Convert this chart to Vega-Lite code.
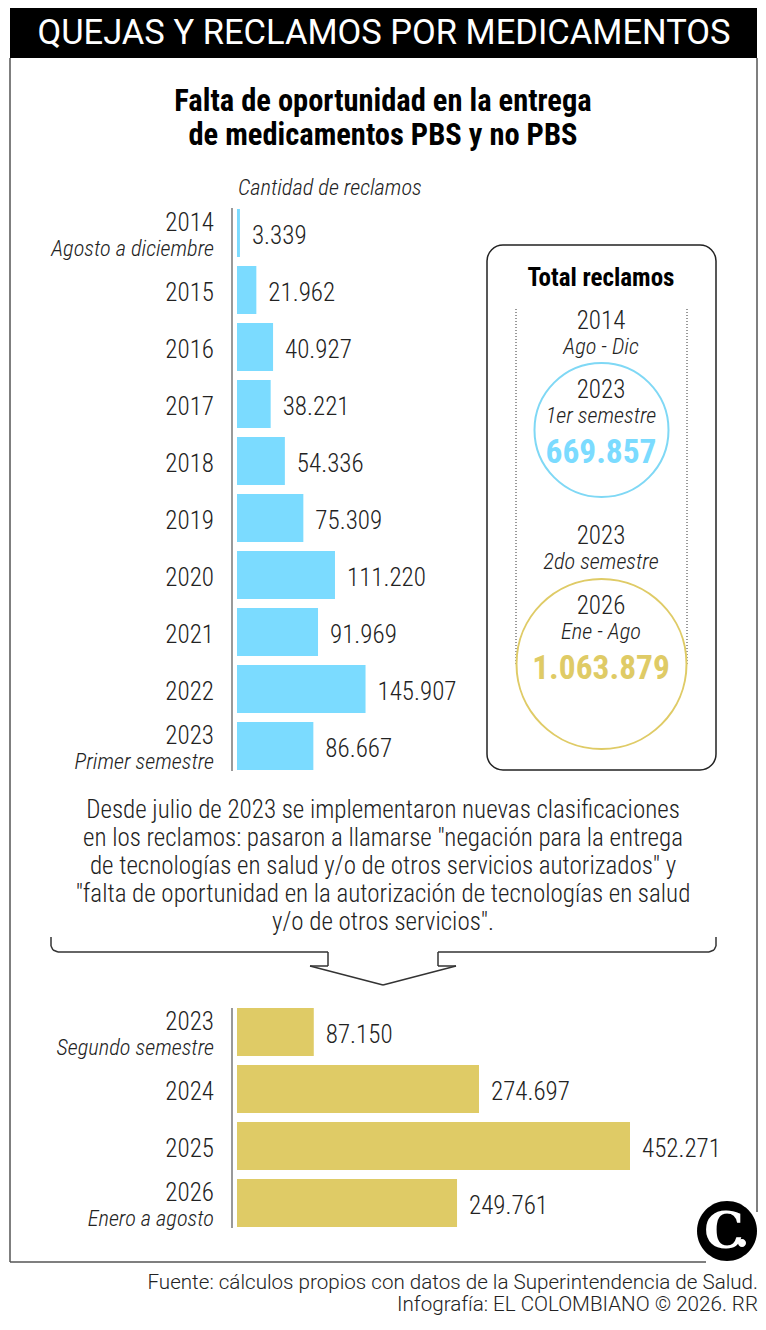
{
  "$schema": "https://vega.github.io/schema/vega-lite/v6.json",
  "width": 766,
  "height": 1330,
  "padding": 0,
  "autosize": {"type": "fit", "contains": "padding"},
  "background": "white",
  "view": {"stroke": null},
  "data": {"values": [{"d": 1}]},
  "resolve": {"scale": {"y": "independent"}},
  "layer": [
    {"mark": {"type": "rect", "fill": "#000000"}, "encoding": {"x": {"value": 10}, "x2": {"value": 757}, "y": {"value": 8}, "y2": {"value": 58}}},
    {"mark": {"type": "rule", "stroke": "#555555", "strokeWidth": 1.5}, "encoding": {"x": {"value": 10}, "y": {"value": 58}, "y2": {"value": 1262}}},
    {"mark": {"type": "rule", "stroke": "#555555", "strokeWidth": 1.5}, "encoding": {"x": {"value": 757}, "y": {"value": 58}, "y2": {"value": 1212}}},
    {"mark": {"type": "rule", "stroke": "#555555", "strokeWidth": 1.5}, "encoding": {"y": {"value": 1262}, "x": {"value": 10}, "x2": {"value": 706}}},
    {"mark": {"type": "text", "font": "Roboto", "fontSize": 34.5, "fontWeight": 400, "fill": "white", "align": "center", "baseline": "middle"}, "encoding": {"x": {"value": 384}, "y": {"value": 34}, "text": {"value": "QUEJAS Y RECLAMOS POR MEDICAMENTOS"}}},
    {"mark": {"type": "text", "font": "Roboto Condensed, Liberation Sans Narrow, Roboto", "fontSize": 30.5, "fontWeight": 700, "fill": "#000000", "align": "center", "baseline": "middle"}, "encoding": {"x": {"value": 383}, "y": {"value": 102}, "text": {"value": "Falta de oportunidad en la entrega"}}},
    {"mark": {"type": "text", "font": "Roboto Condensed, Liberation Sans Narrow, Roboto", "fontSize": 30.5, "fontWeight": 700, "fill": "#000000", "align": "center", "baseline": "middle"}, "encoding": {"x": {"value": 383}, "y": {"value": 136}, "text": {"value": "de medicamentos PBS y no PBS"}}},
    {"mark": {"type": "text", "font": "Roboto Condensed, Liberation Sans Narrow, Roboto", "fontSize": 22.4, "fontWeight": 300, "fontStyle": "italic", "fill": "#222222", "align": "left", "baseline": "middle"}, "encoding": {"x": {"value": 238}, "y": {"value": 188}, "text": {"value": "Cantidad de reclamos"}}},
    {"mark": {"type": "rule", "stroke": "#999999", "strokeWidth": 2}, "encoding": {"x": {"value": 232}, "y": {"value": 208}, "y2": {"value": 771}}},
    {"mark": {"type": "rule", "stroke": "#999999", "strokeWidth": 2}, "encoding": {"x": {"value": 232}, "y": {"value": 1008}, "y2": {"value": 1228}}},
    {
      "data": {"values": [
        {"year": "2014", "sub": "Agosto a diciembre", "reclamos": 3339, "label": "3.339"},
        {"year": "2015", "sub": "", "reclamos": 21962, "label": "21.962"},
        {"year": "2016", "sub": "", "reclamos": 40927, "label": "40.927"},
        {"year": "2017", "sub": "", "reclamos": 38221, "label": "38.221"},
        {"year": "2018", "sub": "", "reclamos": 54336, "label": "54.336"},
        {"year": "2019", "sub": "", "reclamos": 75309, "label": "75.309"},
        {"year": "2020", "sub": "", "reclamos": 111220, "label": "111.220"},
        {"year": "2021", "sub": "", "reclamos": 91969, "label": "91.969"},
        {"year": "2022", "sub": "", "reclamos": 145907, "label": "145.907"},
        {"year": "2023", "sub": "Primer semestre", "reclamos": 86667, "label": "86.667"}
      ]},
      "encoding": {
        "y": {"field": "year", "type": "nominal", "sort": null, "axis": null,
          "scale": {"range": [209, 770], "paddingInner": 0.158, "paddingOuter": 0}}
      },
      "layer": [
        {
          "mark": {"type": "bar", "fill": "#7BDBFF"},
          "encoding": {"x": {"field": "reclamos", "type": "quantitative", "axis": null,
            "scale": {"domain": [0, 274697, 452271], "range": [237, 479, 630]}}, "x2": {"value": 237}}
        },
        {
          "mark": {"type": "text", "font": "Roboto Condensed, Liberation Sans Narrow, Roboto", "fontSize": 25, "fontWeight": 300, "fill": "#222222", "align": "left", "baseline": "middle", "dx": 12, "dy": 3},
          "encoding": {
            "x": {"field": "reclamos", "type": "quantitative", "axis": null,
              "scale": {"domain": [0, 274697, 452271], "range": [237, 479, 630]}},
            "text": {"field": "label"}
          }
        },
        {
          "transform": [{"filter": "datum.sub == ''"}],
          "mark": {"type": "text", "font": "Roboto Condensed, Liberation Sans Narrow, Roboto", "fontSize": 25, "fontWeight": 300, "fill": "#222222", "align": "right", "baseline": "middle", "dy": 3},
          "encoding": {"x": {"value": 214}, "text": {"field": "year"}}
        },
        {
          "transform": [{"filter": "datum.sub != ''"}],
          "mark": {"type": "text", "font": "Roboto Condensed, Liberation Sans Narrow, Roboto", "fontSize": 25, "fontWeight": 300, "fill": "#222222", "align": "right", "baseline": "middle", "dy": -10},
          "encoding": {"x": {"value": 214}, "text": {"field": "year"}}
        },
        {
          "transform": [{"filter": "datum.sub != ''"}],
          "mark": {"type": "text", "font": "Roboto Condensed, Liberation Sans Narrow, Roboto", "fontSize": 22.4, "fontWeight": 300, "fontStyle": "italic", "fill": "#222222", "align": "right", "baseline": "middle", "dy": 16},
          "encoding": {"x": {"value": 214}, "text": {"field": "sub"}}
        }
      ]
    },
    {
      "data": {"values": [
        {"year": "2023", "sub": "Segundo semestre", "reclamos": 87150, "label": "87.150"},
        {"year": "2024", "sub": "", "reclamos": 274697, "label": "274.697"},
        {"year": "2025", "sub": "", "reclamos": 452271, "label": "452.271"},
        {"year": "2026", "sub": "Enero a agosto", "reclamos": 249761, "label": "249.761"}
      ]},
      "encoding": {
        "y": {"field": "year", "type": "nominal", "sort": null, "axis": null,
          "scale": {"range": [1008, 1227], "paddingInner": 0.158, "paddingOuter": 0}}
      },
      "layer": [
        {
          "mark": {"type": "bar", "fill": "#DFCB66"},
          "encoding": {"x": {"field": "reclamos", "type": "quantitative", "axis": null,
            "scale": {"domain": [0, 274697, 452271], "range": [237, 479, 630]}}, "x2": {"value": 237}}
        },
        {
          "mark": {"type": "text", "font": "Roboto Condensed, Liberation Sans Narrow, Roboto", "fontSize": 25, "fontWeight": 300, "fill": "#222222", "align": "left", "baseline": "middle", "dx": 12, "dy": 3},
          "encoding": {
            "x": {"field": "reclamos", "type": "quantitative", "axis": null,
              "scale": {"domain": [0, 274697, 452271], "range": [237, 479, 630]}},
            "text": {"field": "label"}
          }
        },
        {
          "transform": [{"filter": "datum.sub == ''"}],
          "mark": {"type": "text", "font": "Roboto Condensed, Liberation Sans Narrow, Roboto", "fontSize": 25, "fontWeight": 300, "fill": "#222222", "align": "right", "baseline": "middle", "dy": 3},
          "encoding": {"x": {"value": 214}, "text": {"field": "year"}}
        },
        {
          "transform": [{"filter": "datum.sub != ''"}],
          "mark": {"type": "text", "font": "Roboto Condensed, Liberation Sans Narrow, Roboto", "fontSize": 25, "fontWeight": 300, "fill": "#222222", "align": "right", "baseline": "middle", "dy": -10},
          "encoding": {"x": {"value": 214}, "text": {"field": "year"}}
        },
        {
          "transform": [{"filter": "datum.sub != ''"}],
          "mark": {"type": "text", "font": "Roboto Condensed, Liberation Sans Narrow, Roboto", "fontSize": 22.4, "fontWeight": 300, "fontStyle": "italic", "fill": "#222222", "align": "right", "baseline": "middle", "dy": 16},
          "encoding": {"x": {"value": 214}, "text": {"field": "sub"}}
        }
      ]
    },
    {"mark": {"type": "rect", "fill": "transparent", "stroke": "#222222", "strokeWidth": 1.5, "cornerRadius": 16}, "encoding": {"x": {"value": 487}, "x2": {"value": 716}, "y": {"value": 245}, "y2": {"value": 770}}},
    {"mark": {"type": "text", "font": "Roboto Condensed, Liberation Sans Narrow, Roboto", "fontSize": 25, "fontWeight": 700, "fill": "#000000", "align": "center", "baseline": "middle"}, "encoding": {"x": {"value": 601}, "y": {"value": 278}, "text": {"value": "Total reclamos"}}},
    {"mark": {"type": "rule", "stroke": "#333333", "strokeWidth": 1, "strokeDash": [1, 2]}, "encoding": {"x": {"value": 516}, "y": {"value": 309}, "y2": {"value": 665}}},
    {"mark": {"type": "rule", "stroke": "#333333", "strokeWidth": 1, "strokeDash": [1, 2]}, "encoding": {"x": {"value": 687}, "y": {"value": 309}, "y2": {"value": 665}}},
    {"mark": {"type": "rect", "fill": "transparent", "stroke": "#7FD8F5", "strokeWidth": 2, "cornerRadius": 67}, "encoding": {"x": {"value": 534.5}, "x2": {"value": 668.5}, "y": {"value": 363}, "y2": {"value": 497}}},
    {"mark": {"type": "rect", "fill": "transparent", "stroke": "#DFCB66", "strokeWidth": 2, "cornerRadius": 85}, "encoding": {"x": {"value": 516.5}, "x2": {"value": 686.5}, "y": {"value": 579}, "y2": {"value": 749}}},
    {"mark": {"type": "text", "font": "Roboto Condensed, Liberation Sans Narrow, Roboto", "fontSize": 25, "fontWeight": 300, "fill": "#222222", "align": "center", "baseline": "middle"}, "encoding": {"x": {"value": 601}, "y": {"value": 321}, "text": {"value": "2014"}}},
    {"mark": {"type": "text", "font": "Roboto Condensed, Liberation Sans Narrow, Roboto", "fontSize": 22.4, "fontWeight": 300, "fontStyle": "italic", "fill": "#222222", "align": "center", "baseline": "middle"}, "encoding": {"x": {"value": 601}, "y": {"value": 347}, "text": {"value": "Ago - Dic"}}},
    {"mark": {"type": "text", "font": "Roboto Condensed, Liberation Sans Narrow, Roboto", "fontSize": 25, "fontWeight": 300, "fill": "#222222", "align": "center", "baseline": "middle"}, "encoding": {"x": {"value": 601}, "y": {"value": 390}, "text": {"value": "2023"}}},
    {"mark": {"type": "text", "font": "Roboto Condensed, Liberation Sans Narrow, Roboto", "fontSize": 22.4, "fontWeight": 300, "fontStyle": "italic", "fill": "#222222", "align": "center", "baseline": "middle"}, "encoding": {"x": {"value": 601}, "y": {"value": 416}, "text": {"value": "1er semestre"}}},
    {"mark": {"type": "text", "font": "Roboto Condensed, Liberation Sans Narrow, Roboto", "fontSize": 33.4, "fontWeight": 700, "fill": "#7BDBFF", "align": "center", "baseline": "middle"}, "encoding": {"x": {"value": 601}, "y": {"value": 453}, "text": {"value": "669.857"}}},
    {"mark": {"type": "text", "font": "Roboto Condensed, Liberation Sans Narrow, Roboto", "fontSize": 25, "fontWeight": 300, "fill": "#222222", "align": "center", "baseline": "middle"}, "encoding": {"x": {"value": 601}, "y": {"value": 536}, "text": {"value": "2023"}}},
    {"mark": {"type": "text", "font": "Roboto Condensed, Liberation Sans Narrow, Roboto", "fontSize": 22.4, "fontWeight": 300, "fontStyle": "italic", "fill": "#222222", "align": "center", "baseline": "middle"}, "encoding": {"x": {"value": 601}, "y": {"value": 562}, "text": {"value": "2do semestre"}}},
    {"mark": {"type": "text", "font": "Roboto Condensed, Liberation Sans Narrow, Roboto", "fontSize": 25, "fontWeight": 300, "fill": "#222222", "align": "center", "baseline": "middle"}, "encoding": {"x": {"value": 601}, "y": {"value": 606}, "text": {"value": "2026"}}},
    {"mark": {"type": "text", "font": "Roboto Condensed, Liberation Sans Narrow, Roboto", "fontSize": 22.4, "fontWeight": 300, "fontStyle": "italic", "fill": "#222222", "align": "center", "baseline": "middle"}, "encoding": {"x": {"value": 601}, "y": {"value": 632}, "text": {"value": "Ene - Ago"}}},
    {"mark": {"type": "text", "font": "Roboto Condensed, Liberation Sans Narrow, Roboto", "fontSize": 33.4, "fontWeight": 700, "fill": "#DFCB66", "align": "center", "baseline": "middle"}, "encoding": {"x": {"value": 601}, "y": {"value": 669}, "text": {"value": "1.063.879"}}},
    {"mark": {"type": "text", "font": "Roboto Condensed, Liberation Sans Narrow, Roboto", "fontSize": 25, "fontWeight": 300, "fill": "#222222", "align": "center", "baseline": "middle"}, "encoding": {"x": {"value": 383}, "y": {"value": 810}, "text": {"value": "Desde julio de 2023 se implementaron nuevas clasificaciones"}}},
    {"mark": {"type": "text", "font": "Roboto Condensed, Liberation Sans Narrow, Roboto", "fontSize": 25, "fontWeight": 300, "fill": "#222222", "align": "center", "baseline": "middle"}, "encoding": {"x": {"value": 383}, "y": {"value": 838}, "text": {"value": "en los reclamos: pasaron a llamarse \"negación para la entrega"}}},
    {"mark": {"type": "text", "font": "Roboto Condensed, Liberation Sans Narrow, Roboto", "fontSize": 25, "fontWeight": 300, "fill": "#222222", "align": "center", "baseline": "middle"}, "encoding": {"x": {"value": 383}, "y": {"value": 866}, "text": {"value": "de tecnologías en salud y/o de otros servicios autorizados\" y"}}},
    {"mark": {"type": "text", "font": "Roboto Condensed, Liberation Sans Narrow, Roboto", "fontSize": 25, "fontWeight": 300, "fill": "#222222", "align": "center", "baseline": "middle"}, "encoding": {"x": {"value": 383}, "y": {"value": 894}, "text": {"value": "\"falta de oportunidad en la autorización de tecnologías en salud"}}},
    {"mark": {"type": "text", "font": "Roboto Condensed, Liberation Sans Narrow, Roboto", "fontSize": 25, "fontWeight": 300, "fill": "#222222", "align": "center", "baseline": "middle"}, "encoding": {"x": {"value": 383}, "y": {"value": 922}, "text": {"value": "y/o de otros servicios\"."}}},
    {"mark": {"type": "rule", "stroke": "#333333", "strokeWidth": 1.5}, "encoding": {"x": {"value": 51}, "y": {"value": 937}, "y2": {"value": 946}}},
    {"mark": {"type": "rule", "stroke": "#333333", "strokeWidth": 1.5}, "encoding": {"x": {"value": 51}, "x2": {"value": 53}, "y": {"value": 946}, "y2": {"value": 950}}},
    {"mark": {"type": "rule", "stroke": "#333333", "strokeWidth": 1.5}, "encoding": {"x": {"value": 53}, "x2": {"value": 58}, "y": {"value": 950}, "y2": {"value": 952}}},
    {"mark": {"type": "rule", "stroke": "#333333", "strokeWidth": 1.5}, "encoding": {"x": {"value": 58}, "x2": {"value": 328}, "y": {"value": 952}}},
    {"mark": {"type": "rule", "stroke": "#333333", "strokeWidth": 1.5}, "encoding": {"x": {"value": 328}, "y": {"value": 952}, "y2": {"value": 966}}},
    {"mark": {"type": "rule", "stroke": "#333333", "strokeWidth": 1.5}, "encoding": {"x": {"value": 310}, "x2": {"value": 328}, "y": {"value": 966}}},
    {"mark": {"type": "rule", "stroke": "#333333", "strokeWidth": 1.5}, "encoding": {"x": {"value": 310}, "x2": {"value": 383}, "y": {"value": 966}, "y2": {"value": 985}}},
    {"mark": {"type": "rule", "stroke": "#333333", "strokeWidth": 1.5}, "encoding": {"x": {"value": 383}, "x2": {"value": 456}, "y": {"value": 985}, "y2": {"value": 966}}},
    {"mark": {"type": "rule", "stroke": "#333333", "strokeWidth": 1.5}, "encoding": {"x": {"value": 438}, "x2": {"value": 456}, "y": {"value": 966}}},
    {"mark": {"type": "rule", "stroke": "#333333", "strokeWidth": 1.5}, "encoding": {"x": {"value": 438}, "y": {"value": 952}, "y2": {"value": 966}}},
    {"mark": {"type": "rule", "stroke": "#333333", "strokeWidth": 1.5}, "encoding": {"x": {"value": 438}, "x2": {"value": 709}, "y": {"value": 952}}},
    {"mark": {"type": "rule", "stroke": "#333333", "strokeWidth": 1.5}, "encoding": {"x": {"value": 709}, "x2": {"value": 714}, "y": {"value": 952}, "y2": {"value": 950}}},
    {"mark": {"type": "rule", "stroke": "#333333", "strokeWidth": 1.5}, "encoding": {"x": {"value": 714}, "x2": {"value": 716}, "y": {"value": 950}, "y2": {"value": 946}}},
    {"mark": {"type": "rule", "stroke": "#333333", "strokeWidth": 1.5}, "encoding": {"x": {"value": 716}, "y": {"value": 937}, "y2": {"value": 946}}},
    {"mark": {"type": "rect", "fill": "#000000", "cornerRadius": 30}, "encoding": {"x": {"value": 697}, "x2": {"value": 757}, "y": {"value": 1201}, "y2": {"value": 1261}}},
    {"mark": {"type": "text", "font": "DejaVu Serif", "fontSize": 50, "fontWeight": 700, "fill": "white", "align": "center", "baseline": "middle"}, "encoding": {"x": {"value": 724}, "y": {"value": 1233}, "text": {"value": "C"}}},
    {"mark": {"type": "rect", "fill": "white", "cornerRadius": 4}, "encoding": {"x": {"value": 738}, "x2": {"value": 746}, "y": {"value": 1239}, "y2": {"value": 1247}}},
    {"mark": {"type": "text", "font": "Roboto", "fontSize": 20.6, "fontWeight": 300, "fill": "#222222", "align": "right", "baseline": "middle"}, "encoding": {"x": {"value": 758}, "y": {"value": 1283}, "text": {"value": "Fuente: cálculos propios con datos de la Superintendencia de Salud."}}},
    {"mark": {"type": "text", "font": "Roboto", "fontSize": 20.6, "fontWeight": 300, "fill": "#222222", "align": "right", "baseline": "middle"}, "encoding": {"x": {"value": 758}, "y": {"value": 1305}, "text": {"value": "Infografía: EL COLOMBIANO © 2026. RR"}}}
  ]
}
